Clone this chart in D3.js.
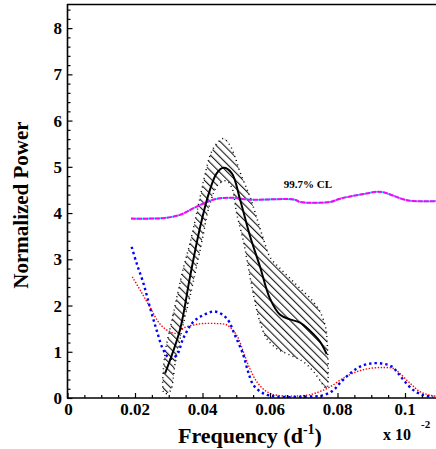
<!DOCTYPE html>
<html><head><meta charset="utf-8">
<script src="https://cdn.jsdelivr.net/npm/d3@7/dist/d3.min.js"></script>
<style>body{margin:0;background:#fff}svg{display:block}text{font-family:"Liberation Serif","Times New Roman",serif;font-weight:bold}</style>
</head><body><svg id="c" width="436" height="449"></svg>
<script>
// ---- data ----
const xTicks = [0, 0.02, 0.04, 0.06, 0.08, 0.1];
const xTickLabels = ["0", "0.02", "0.04", "0.06", "0.08", "0.1"];
const yTicks = [0, 1, 2, 3, 4, 5, 6, 7, 8];
const clFreq = [0.0188,0.0244,0.0283,0.0333,0.0372,0.0413,0.0443,0.0490,0.0541,0.0674,0.0689,0.0778,0.0807,0.0837,0.0876,0.0916,0.0936,0.0994,0.1024,0.1100];
const clPower = [3.88,3.88,3.89,3.96,4.10,4.24,4.31,4.33,4.29,4.29,4.24,4.24,4.31,4.36,4.41,4.46,4.45,4.30,4.26,4.26];
const modelFreq = [0.0289,0.0333,0.0363,0.0393,0.0422,0.0442,0.0462,0.0487,0.0511,0.0541,0.0570,0.0600,0.0630,0.0659,0.0689,0.0719,0.0748,0.0768];
const modelPower = [0.53,1.47,2.62,3.70,4.50,4.86,4.98,4.86,4.30,3.50,2.85,2.15,1.80,1.70,1.63,1.45,1.22,0.95];
const upperFreq = [0.0287,0.0313,0.0343,0.0363,0.0393,0.0407,0.0427,0.0447,0.0462,0.0481,0.0496,0.0511,0.0531,0.0541,0.0561,0.0580,0.0600,0.0630,0.0659,0.0689,0.0719,0.0748,0.0763,0.0768];
const upperPower = [0.85,1.80,2.80,3.35,4.35,4.82,5.33,5.54,5.61,5.47,5.22,4.89,4.53,4.35,3.89,3.45,3.05,2.80,2.59,2.37,2.16,1.87,1.58,1.36];
const lowerFreq = [0.0287,0.0304,0.0319,0.0343,0.0363,0.0393,0.0422,0.0445,0.0470,0.0487,0.0501,0.0521,0.0531,0.0551,0.0570,0.0590,0.0620,0.0659,0.0699,0.0729,0.0758,0.0768];
const lowerPower = [0.10,0.15,0.75,1.60,2.20,3.20,4.20,4.60,4.70,4.55,4.00,3.40,3.02,2.23,1.65,1.29,1.07,0.93,0.78,0.57,0.28,0.21];
const blueFreq = [0.0190,0.0205,0.0225,0.0244,0.0264,0.0284,0.0304,0.0324,0.0343,0.0373,0.0402,0.0437,0.0472,0.0496,0.0521,0.0535,0.0551,0.0580,0.0620,0.0709,0.0758,0.0788,0.0807,0.0837,0.0867,0.0901,0.0936,0.0961,0.0980,0.1000,0.1025,0.1054,0.1084];
const bluePower = [3.27,2.91,2.48,1.97,1.47,1.04,0.85,0.93,1.29,1.65,1.79,1.87,1.72,1.36,0.93,0.57,0.28,0.10,0.03,0.03,0.06,0.17,0.32,0.53,0.68,0.75,0.74,0.68,0.53,0.35,0.17,0.06,0.03];
const redFreq = [0.0192,0.0218,0.0244,0.0274,0.0304,0.0324,0.0343,0.0373,0.0402,0.0442,0.0472,0.0501,0.0521,0.0536,0.0561,0.0590,0.0620,0.0709,0.0748,0.0778,0.0817,0.0857,0.0896,0.0936,0.0965,0.0985,0.1015,0.1044,0.1074,0.1104];
const redPower = [2.62,2.30,1.97,1.60,1.43,1.40,1.51,1.58,1.61,1.61,1.58,1.36,1.00,0.71,0.35,0.14,0.06,0.06,0.14,0.24,0.43,0.57,0.64,0.66,0.64,0.53,0.32,0.14,0.06,0.03];

// ---- chart ----
const svg = d3.select("#c");
const x = d3.scaleLinear().domain([0, 0.11]).range([67.5, 438.75]);
const y = d3.scaleLinear().domain([0, 8.5]).range([398, 5]);
const zip = (a, b) => a.map((v, i) => [v, b[i]]);

const defs = svg.append("defs");
const pat = defs.append("pattern").attr("id", "hatch").attr("patternUnits", "userSpaceOnUse")
  .attr("width", 5.5).attr("height", 10).attr("patternTransform", "rotate(-45)");
pat.append("line").attr("x1", 0.6).attr("y1", 0).attr("x2", 0.6).attr("y2", 10)
  .attr("stroke", "#000").attr("stroke-width", 1);
defs.append("clipPath").attr("id", "clip").append("rect")
  .attr("x", 67.5).attr("y", 5).attr("width", 380).attr("height", 393);

const g = svg.append("g").attr("clip-path", "url(#clip)");
const line = d3.line().x(d => x(d[0])).y(d => y(d[1])).curve(d3.curveCatmullRom.alpha(0.5));

// hatched band
const up = zip(upperFreq, upperPower);
const lo = zip(lowerFreq, lowerPower);
const bandPts = up.concat(lo.slice().reverse());
const lin = d3.line().x(d => x(d[0])).y(d => y(d[1])).curve(d3.curveCatmullRomClosed.alpha(0.5));
g.append("path").attr("d", lin(bandPts)).attr("fill", "url(#hatch)")
  .attr("stroke", "#000").attr("stroke-width", 1.5).attr("stroke-dasharray", "1,3.5");

// CL line
g.append("path").attr("d", line(zip(clFreq, clPower))).attr("fill", "none")
  .attr("stroke", "#00e5ff").attr("stroke-width", 1.6);
g.append("path").attr("d", line(zip(clFreq, clPower))).attr("fill", "none")
  .attr("stroke", "#ff00ff").attr("stroke-width", 2).attr("stroke-dasharray", "5,1");

// red dotted
g.append("path").attr("d", line(zip(redFreq, redPower))).attr("fill", "none")
  .attr("stroke", "#ff0000").attr("stroke-width", 1.4).attr("stroke-dasharray", "1.4,1.6");
// blue dotted
g.append("path").attr("d", line(zip(blueFreq, bluePower))).attr("fill", "none")
  .attr("stroke", "#0000ff").attr("stroke-width", 2.4).attr("stroke-dasharray", "2.4,3");
// model black
g.append("path").attr("d", line(zip(modelFreq, modelPower))).attr("fill", "none")
  .attr("stroke", "#000").attr("stroke-width", 2);

// axes
const ax = svg.append("g");
ax.append("line").attr("x1", 67.5).attr("x2", 67.5).attr("y1", 4).attr("y2", 398.5).attr("stroke", "#000").attr("stroke-width", 1.6);
ax.append("line").attr("x1", 67).attr("x2", 436).attr("y1", 398).attr("y2", 398).attr("stroke", "#000").attr("stroke-width", 1.6);
ax.append("line").attr("x1", 67).attr("x2", 436).attr("y1", 4.5).attr("y2", 4.5).attr("stroke", "#000").attr("stroke-width", 1.4);

const yAxis = d3.axisRight(y).tickValues(yTicks).tickSize(5).tickFormat("");
ax.append("g").attr("transform", "translate(67.5,0)").call(yAxis).call(s => s.select(".domain").remove());
const yMinor = d3.range(0, 8.5, 0.2).filter(v => Math.abs(v - Math.round(v)) > 0.01);
ax.append("g").attr("transform", "translate(67.5,0)").call(d3.axisRight(y).tickValues(yMinor).tickSize(3).tickFormat(""))
  .call(s => s.select(".domain").remove());
const xAxis = d3.axisTop(x).tickValues(xTicks).tickSize(5).tickFormat("");
ax.append("g").attr("transform", "translate(0,398)").call(xAxis).call(s => s.select(".domain").remove());
const xMinor = d3.range(0.005, 0.11, 0.005).filter(v => Math.abs(v / 0.02 - Math.round(v / 0.02)) > 0.01);
ax.append("g").attr("transform", "translate(0,398)").call(d3.axisTop(x).tickValues(xMinor).tickSize(3).tickFormat(""))
  .call(s => s.select(".domain").remove());
ax.selectAll(".tick line").attr("stroke", "#000").attr("stroke-width", 1.2);

// tick labels
svg.append("g").selectAll("text").data(yTicks).join("text")
  .attr("x", 62).attr("y", d => y(d) + 6).attr("text-anchor", "end")
  .attr("font-size", 17).text(d => d);
svg.append("g").selectAll("text").data(xTicks).join("text")
  .attr("x", (d, i) => x(d) + (i === 0 ? 1 : 0)).attr("y", 415).attr("text-anchor", "middle")
  .attr("font-size", 17).text((d, i) => xTickLabels[i]);

// labels
svg.append("text").attr("transform", "translate(28,205) rotate(-90)").attr("text-anchor", "middle")
  .attr("font-size", 21).text("Normalized Power");
const xl = svg.append("text").attr("x", 178).attr("y", 443).attr("font-size", 22);
xl.append("tspan").text("Frequency (d");
xl.append("tspan").attr("font-size", 14).attr("dy", -9).text("-1");
xl.append("tspan").attr("dy", 9).text(")");
const xm = svg.append("text").attr("x", 383).attr("y", 440).attr("font-size", 16);
xm.append("tspan").text("x 10");
xm.append("tspan").attr("dx", 10).attr("dy", -12).attr("font-size", 11).text("-2");

svg.append("text").attr("x", 308).attr("y", 188).attr("text-anchor", "middle").attr("font-size", 11).text("99.7% CL");
</script></body></html>
